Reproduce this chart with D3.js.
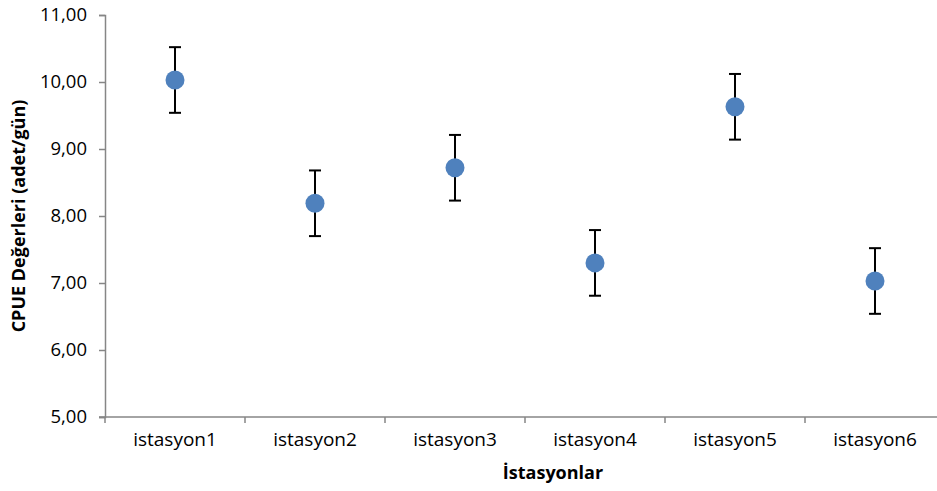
<!DOCTYPE html>
<html>
<head>
<meta charset="utf-8">
<script src="https://cdn.jsdelivr.net/npm/d3@7"></script>
<style>
  body { margin: 0; background: #fff; }
  text { font-family: "Open Sans", "Liberation Sans", sans-serif; fill: #000; }
</style>
</head>
<body>
<svg id="chart" width="937" height="491"></svg>
<script>
// chart data
var stations = ["istasyon1", "istasyon2", "istasyon3", "istasyon4", "istasyon5", "istasyon6"];
var cpue = [10.03, 8.19, 8.72, 7.30, 9.63, 7.03];
var errors = [0.49, 0.49, 0.49, 0.49, 0.49, 0.49];
var yTicks = [5, 6, 7, 8, 9, 10, 11];

var margin = {top: 15, left: 105},
    width = 840,
    height = 402;

var svg = d3.select("#chart");
var g = svg.append("g")
    .attr("transform", "translate(" + margin.left + "," + margin.top + ")");

var x = d3.scaleBand().domain(stations).range([0, width]);
var y = d3.scaleLinear().domain([5, 11]).range([height, 0]);

var fmt = function(d) { return d3.format(".2f")(d).replace(".", ","); };

// y axis
var yAxis = g.append("g")
    .call(d3.axisLeft(y).tickValues(yTicks).tickFormat(fmt).tickSize(6).tickPadding(12));
yAxis.select(".domain").attr("stroke", "#868686").attr("stroke-width", 1.5);
yAxis.selectAll(".tick line").attr("stroke", "#868686").attr("stroke-width", 1.5);
yAxis.selectAll(".tick text").style("font-size", "18.5px").attr("fill", "#000");

// x axis, ticks at band boundaries
var xAxis = g.append("g")
    .attr("transform", "translate(0," + height + ")")
    .call(d3.axisBottom(x).tickSize(0).tickPadding(16));
xAxis.select(".domain").attr("stroke", "#868686").attr("stroke-width", 1.5).attr("d", "M-6,0H" + width);
xAxis.selectAll(".tick text").style("font-size", "19px").attr("fill", "#000");
g.append("g").selectAll("line")
    .data(stations)
  .enter().append("line")
    .attr("x1", function(d) { return x(d); })
    .attr("x2", function(d) { return x(d); })
    .attr("y1", height)
    .attr("y2", height + 6)
    .attr("stroke", "#868686")
    .attr("stroke-width", 1.5);

// error bars
var bars = g.append("g").selectAll("g")
    .data(stations)
  .enter().append("g")
    .attr("stroke", "#000")
    .attr("stroke-width", 2);
bars.append("line")
    .attr("x1", function(d) { return x(d) + x.bandwidth() / 2; })
    .attr("x2", function(d) { return x(d) + x.bandwidth() / 2; })
    .attr("y1", function(d, i) { return y(cpue[i] + errors[i]); })
    .attr("y2", function(d, i) { return y(cpue[i] - errors[i]); });
bars.append("line")
    .attr("x1", function(d) { return x(d) + x.bandwidth() / 2 - 6; })
    .attr("x2", function(d) { return x(d) + x.bandwidth() / 2 + 6; })
    .attr("y1", function(d, i) { return y(cpue[i] + errors[i]); })
    .attr("y2", function(d, i) { return y(cpue[i] + errors[i]); });
bars.append("line")
    .attr("x1", function(d) { return x(d) + x.bandwidth() / 2 - 6; })
    .attr("x2", function(d) { return x(d) + x.bandwidth() / 2 + 6; })
    .attr("y1", function(d, i) { return y(cpue[i] - errors[i]); })
    .attr("y2", function(d, i) { return y(cpue[i] - errors[i]); });

// points
g.append("g").selectAll("circle")
    .data(stations)
  .enter().append("circle")
    .attr("cx", function(d) { return x(d) + x.bandwidth() / 2; })
    .attr("cy", function(d, i) { return y(cpue[i]); })
    .attr("r", 9.5)
    .attr("fill", "#4F81BD");

// axis titles
svg.append("text")
    .attr("transform", "translate(25," + (margin.top + height / 2) + ") rotate(-90)")
    .attr("text-anchor", "middle")
    .style("font-size", "18px")
    .style("font-weight", "bold")
    .text("CPUE Değerleri (adet/gün)");

svg.append("text")
    .attr("x", 553)
    .attr("y", 479)
    .attr("text-anchor", "middle")
    .style("font-size", "18px")
    .style("font-weight", "bold")
    .text("İstasyonlar");
</script>
</body>
</html>
